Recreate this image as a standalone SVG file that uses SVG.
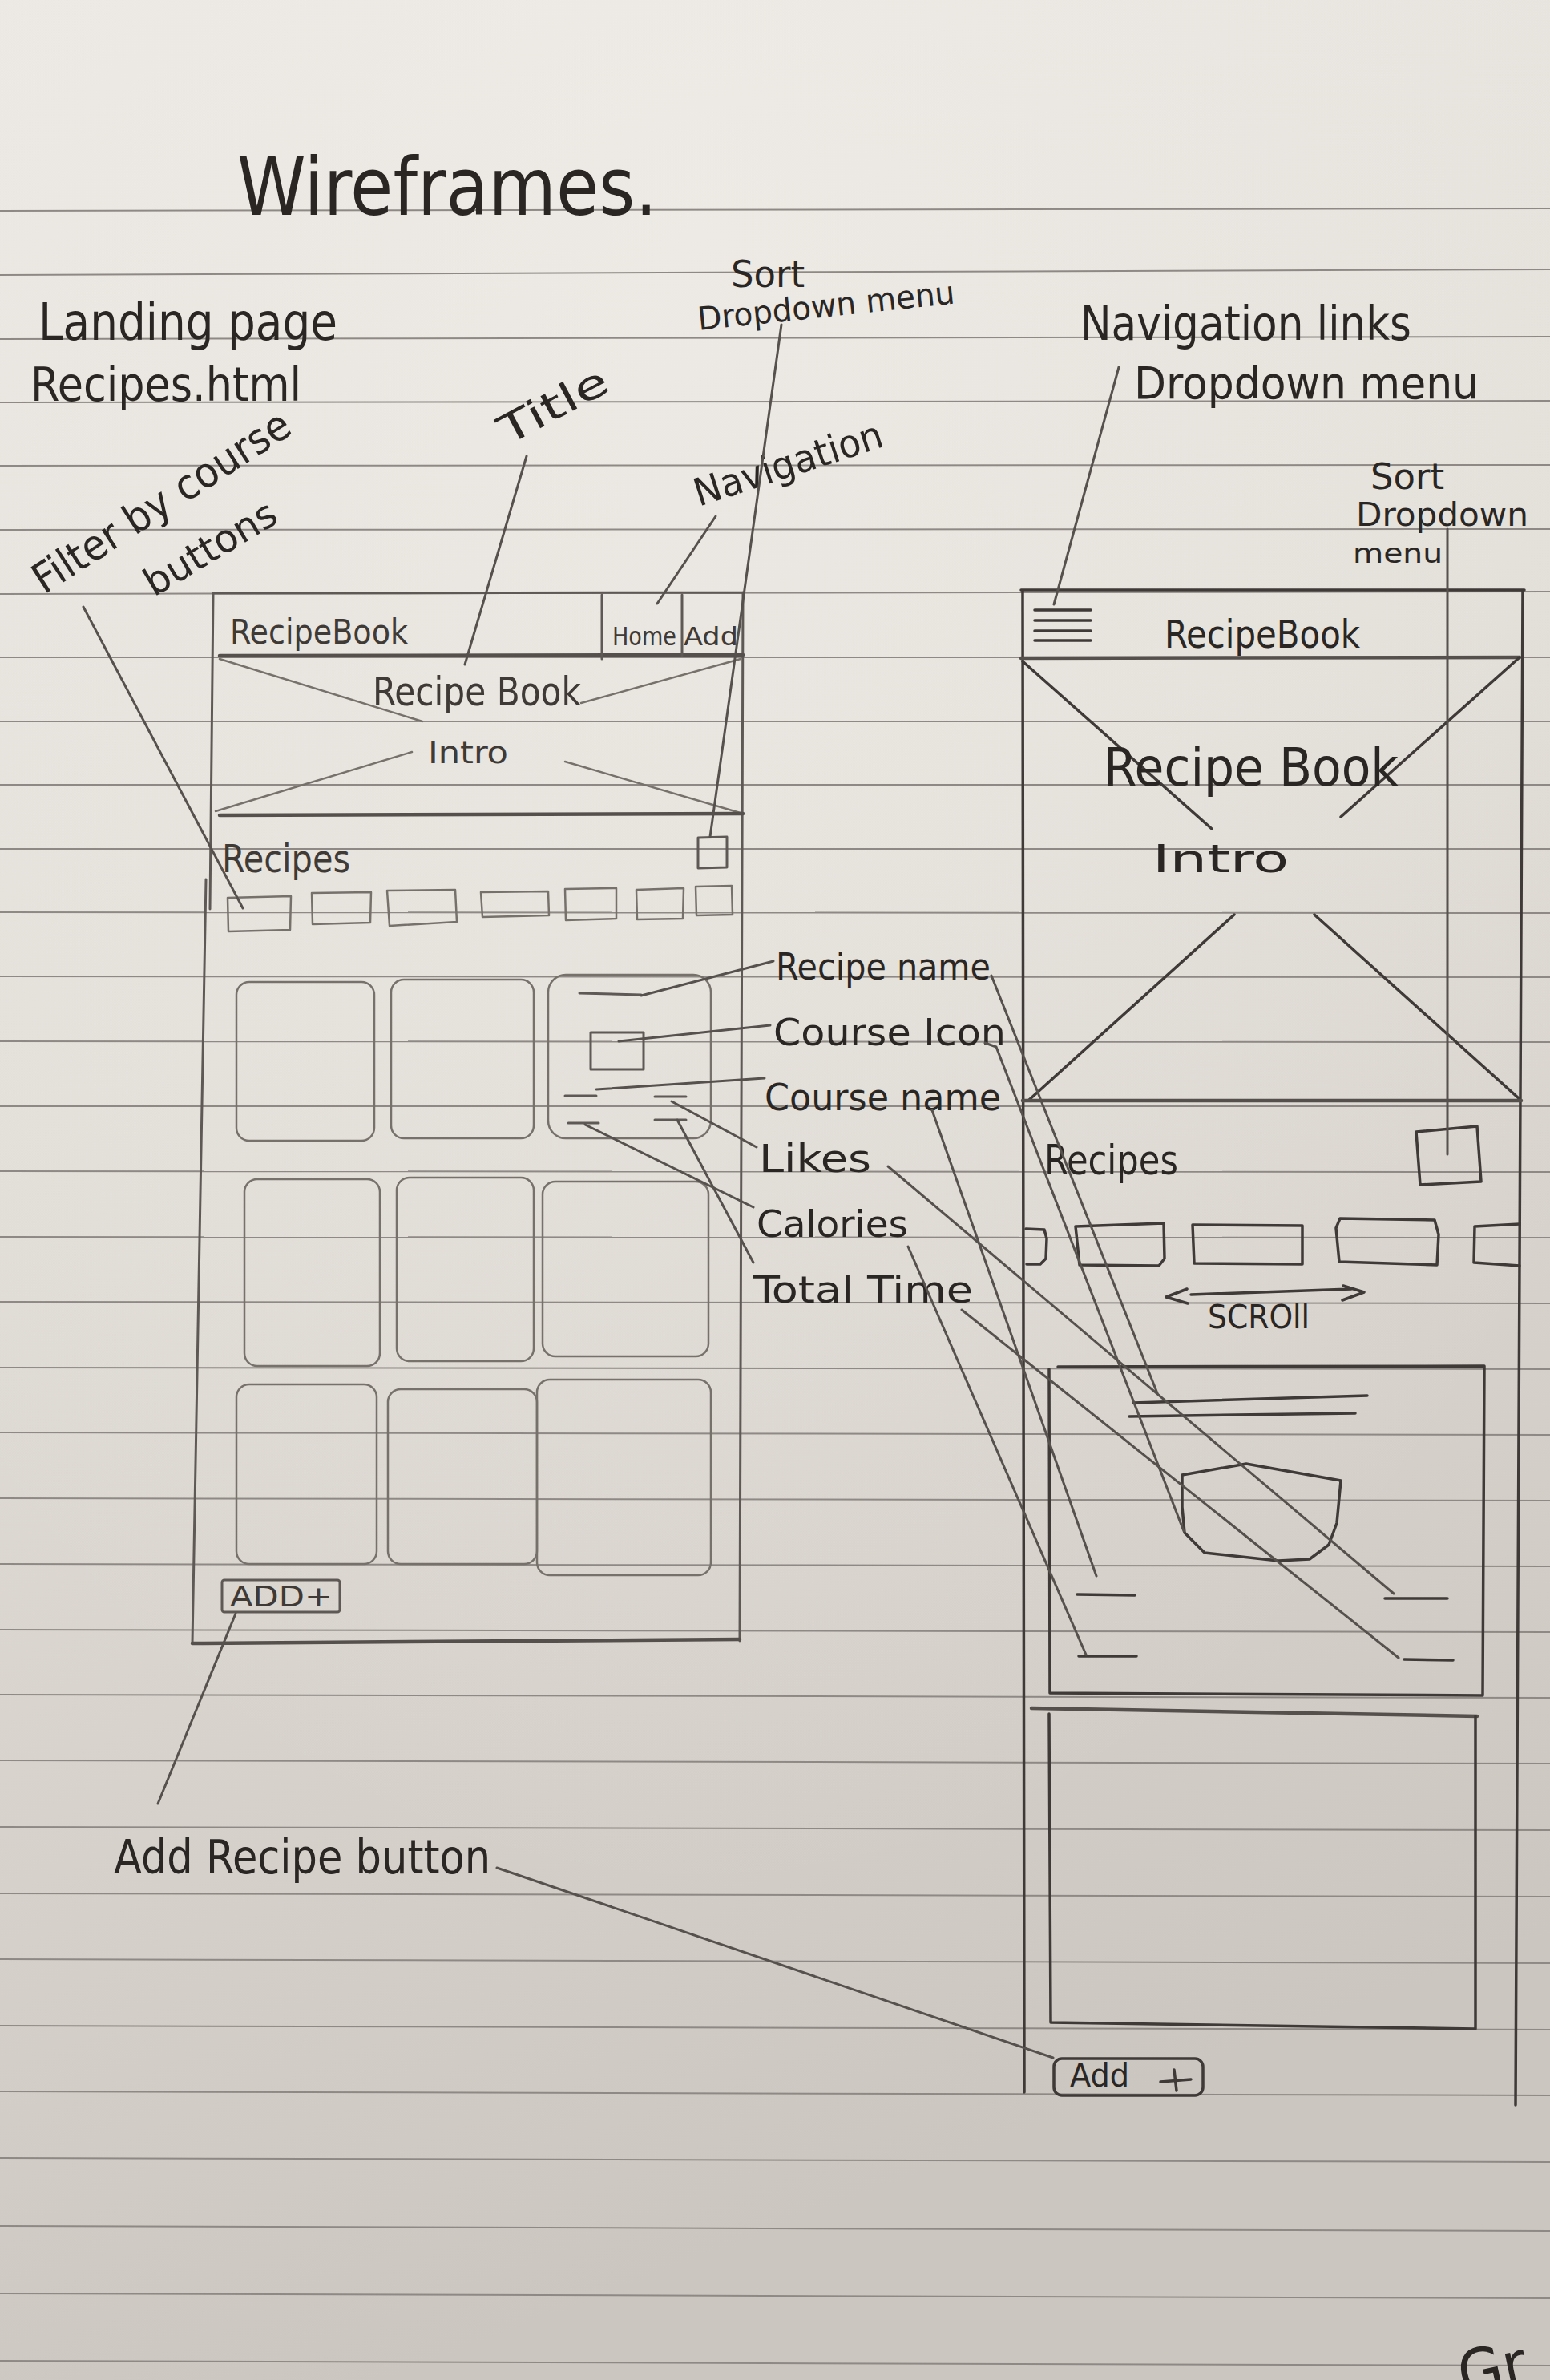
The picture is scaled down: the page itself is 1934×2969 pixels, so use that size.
<svg xmlns="http://www.w3.org/2000/svg" width="1934" height="2969" viewBox="0 0 1934 2969">
  <defs>
    <linearGradient id="paper" x1="0" y1="0" x2="0.25" y2="1">
      <stop offset="0" stop-color="#ebe8e3"/>
      <stop offset="0.45" stop-color="#e2ded8"/>
      <stop offset="1" stop-color="#ccc6c0"/>
    </linearGradient>
    <radialGradient id="glow" cx="0.45" cy="0.1" r="0.7">
      <stop offset="0" stop-color="#f2efea" stop-opacity="0.55"/>
      <stop offset="1" stop-color="#f2efea" stop-opacity="0"/>
    </radialGradient>
    <style>
      .rule { stroke: #8e8984; stroke-width: 2; fill: none; }
      .frame { stroke: #5f5955; stroke-width: 3; fill: none; stroke-linecap: round; stroke-linejoin: round; }
      .heavy { stroke: #55504c; stroke-width: 4.5; fill: none; stroke-linecap: round; }
      .soft { stroke: #77716c; stroke-width: 2.5; fill: none; stroke-linecap: round; stroke-linejoin: round; }
      .ink { stroke: #3f3a37; stroke-width: 3.5; fill: none; stroke-linecap: round; stroke-linejoin: round; }
      .lead { stroke: #56514d; stroke-width: 3; fill: none; stroke-linecap: round; }
      text { font-family: "Liberation Sans Narrow", "DejaVu Sans Condensed", "Liberation Sans", sans-serif; fill: #2c2826; }
      .pen { fill: #2a2624; }
      .pencil { fill: #3f3a36; }
    </style>
  </defs>

  <!-- paper -->
  <rect x="0" y="0" width="1934" height="2969" fill="url(#paper)"/>
  <rect x="0" y="0" width="1934" height="2969" fill="url(#glow)"/>

  <!-- ruled lines -->
  <g id="ruling" class="rule">
    <line x1="0" y1="263" x2="1934" y2="260"/>
    <line x1="0" y1="343" x2="1934" y2="336"/>
    <line x1="0" y1="423" x2="1934" y2="420"/>
    <line x1="0" y1="502" x2="1934" y2="500"/>
    <line x1="0" y1="581" x2="1934" y2="580"/>
    <line x1="0" y1="661" x2="1934" y2="660"/>
    <line x1="0" y1="741" x2="1934" y2="738"/>
    <line x1="0" y1="820" x2="1934" y2="820"/>
    <line x1="0" y1="900" x2="1934" y2="900"/>
    <line x1="0" y1="979" x2="1934" y2="979"/>
    <line x1="0" y1="1059" x2="1934" y2="1059"/>
    <line x1="0" y1="1138" x2="1934" y2="1139"/>
    <line x1="0" y1="1218" x2="1934" y2="1219"/>
    <line x1="0" y1="1299" x2="1934" y2="1300"/>
    <line x1="0" y1="1380" x2="1934" y2="1380"/>
    <line x1="0" y1="1461" x2="1934" y2="1462"/>
    <line x1="0" y1="1543" x2="1934" y2="1544"/>
    <line x1="0" y1="1624" x2="1934" y2="1626"/>
    <line x1="0" y1="1706" x2="1934" y2="1708"/>
    <line x1="0" y1="1787" x2="1934" y2="1790"/>
    <line x1="0" y1="1869" x2="1934" y2="1872"/>
    <line x1="0" y1="1951" x2="1934" y2="1954"/>
    <line x1="0" y1="2033" x2="1934" y2="2036"/>
    <line x1="0" y1="2114" x2="1934" y2="2118"/>
    <line x1="0" y1="2196" x2="1934" y2="2200"/>
    <line x1="0" y1="2279" x2="1934" y2="2283"/>
    <line x1="0" y1="2362" x2="1934" y2="2366"/>
    <line x1="0" y1="2444" x2="1934" y2="2449"/>
    <line x1="0" y1="2527" x2="1934" y2="2532"/>
    <line x1="0" y1="2609" x2="1934" y2="2614"/>
    <line x1="0" y1="2692" x2="1934" y2="2697"/>
    <line x1="0" y1="2777" x2="1934" y2="2783"/>
    <line x1="0" y1="2861" x2="1934" y2="2867"/>
    <line x1="0" y1="2945" x2="1934" y2="2951"/>
  </g>

  <!-- headings and annotation labels -->
  <g id="heading">
    <text class="pen" x="296" y="268" font-size="100" textLength="524" lengthAdjust="spacingAndGlyphs">Wireframes.</text>
  </g>
  <g id="label-landing">
    <text class="pen" x="48" y="424" font-size="64" textLength="373" lengthAdjust="spacingAndGlyphs">Landing page</text>
    <text class="pen" x="38" y="500" font-size="58" textLength="338" lengthAdjust="spacingAndGlyphs">Recipes.html</text>
  </g>
  <g id="label-filter">
    <text class="pen" x="55" y="742" font-size="52" textLength="372" lengthAdjust="spacingAndGlyphs" transform="rotate(-33 55 742)">Filter by course</text>
    <text class="pen" x="192" y="745" font-size="48" textLength="184" lengthAdjust="spacingAndGlyphs" transform="rotate(-31 192 745)">buttons</text>
  </g>
  <g id="label-title">
    <text class="pen" x="633" y="556" font-size="50" textLength="148" lengthAdjust="spacingAndGlyphs" transform="rotate(-28 633 556)">Title</text>
  </g>
  <g id="label-navigation">
    <text class="pen" x="872" y="632" font-size="48" textLength="245" lengthAdjust="spacingAndGlyphs" transform="rotate(-18 872 632)">Navigation</text>
  </g>
  <g id="label-sort-left">
    <text class="pen" x="912" y="358" font-size="46" textLength="92" lengthAdjust="spacingAndGlyphs">Sort</text>
    <text class="pen" x="872" y="412" font-size="40" textLength="322" lengthAdjust="spacingAndGlyphs" transform="rotate(-6 872 412)">Dropdown menu</text>
  </g>
  <g id="label-nav-links">
    <text class="pen" x="1348" y="424" font-size="58" textLength="413" lengthAdjust="spacingAndGlyphs">Navigation links</text>
    <text class="pen" x="1415" y="497" font-size="56" textLength="430" lengthAdjust="spacingAndGlyphs">Dropdown menu</text>
  </g>
  <g id="label-sort-right">
    <text class="pen" x="1710" y="610" font-size="44" textLength="92" lengthAdjust="spacingAndGlyphs">Sort</text>
    <text class="pen" x="1692" y="656" font-size="40" textLength="215" lengthAdjust="spacingAndGlyphs">Dropdown</text>
    <text class="pen" x="1688" y="702" font-size="34" textLength="112" lengthAdjust="spacingAndGlyphs">menu</text>
  </g>
  <g id="label-card-fields">
    <text class="pen" x="968" y="1222" font-size="46" textLength="268" lengthAdjust="spacingAndGlyphs">Recipe name</text>
    <text class="pen" x="965" y="1304" font-size="46" textLength="290" lengthAdjust="spacingAndGlyphs">Course Icon</text>
    <text class="pen" x="954" y="1385" font-size="46" textLength="295" lengthAdjust="spacingAndGlyphs">Course name</text>
    <text class="pen" x="947" y="1462" font-size="48" textLength="140" lengthAdjust="spacingAndGlyphs">Likes</text>
    <text class="pen" x="944" y="1543" font-size="46" textLength="189" lengthAdjust="spacingAndGlyphs">Calories</text>
    <text class="pen" x="940" y="1625" font-size="46" textLength="274" lengthAdjust="spacingAndGlyphs">Total Time</text>
  </g>
  <g id="label-add">
    <text class="pen" x="142" y="2337" font-size="58" textLength="470" lengthAdjust="spacingAndGlyphs">Add Recipe button</text>
  </g>
  <g id="corner-mark">
    <text class="pen" x="1826" y="2992" font-size="80" transform="rotate(-12 1826 2992)">Gr</text>
  </g>

  <!-- desktop wireframe -->
  <g id="desktop-page">
    <path class="frame" d="M266,740 L927,739 M266,740 L262,1134 M257,1097 L240,2050 M927,739 L923,2047"/>
    <path class="heavy" d="M240,2050 L923,2045"/>
    <path class="heavy" d="M274,818 L927,817"/>
    <path class="frame" d="M751,742 L751,822 M851,742 L851,818"/>
    <text class="pencil" x="287" y="803" font-size="42" textLength="222" lengthAdjust="spacingAndGlyphs">RecipeBook</text>
    <text class="pencil" x="764" y="805" font-size="32" textLength="80" lengthAdjust="spacingAndGlyphs">Home</text>
    <text class="pencil" x="853" y="805" font-size="32" textLength="68" lengthAdjust="spacingAndGlyphs">Add</text>
  </g>
  <g id="desktop-hero">
    <path class="soft" d="M274,822 L527,900 M924,822 L725,877 M269,1012 L514,938 M705,950 L927,1015"/>
    <path class="heavy" d="M274,1017 L927,1015"/>
    <text class="pencil" x="465" y="880" font-size="50" textLength="260" lengthAdjust="spacingAndGlyphs">Recipe Book</text>
    <text class="pencil" x="534" y="952" font-size="38" textLength="100" lengthAdjust="spacingAndGlyphs">Intro</text>
  </g>
  <g id="desktop-filters">
    <text class="pencil" x="277" y="1088" font-size="48" textLength="160" lengthAdjust="spacingAndGlyphs">Recipes</text>
    <path class="frame" d="M871,1045 L907,1044 L907,1082 L871,1083 Z"/>
    <path class="soft" d="M284,1120 L363,1118 L362,1160 L285,1162 Z"/>
    <path class="soft" d="M389,1114 L463,1113 L462,1151 L390,1153 Z"/>
    <path class="soft" d="M483,1111 L568,1110 L570,1150 L486,1155 Z"/>
    <path class="soft" d="M600,1113 L684,1112 L685,1142 L602,1144 Z"/>
    <path class="soft" d="M705,1109 L769,1108 L769,1146 L706,1148 Z"/>
    <path class="soft" d="M794,1110 L853,1108 L852,1146 L795,1147 Z"/>
    <path class="soft" d="M868,1106 L913,1105 L914,1141 L869,1142 Z"/>
  </g>
  <g id="desktop-cards" class="soft">
    <rect x="295" y="1225" width="172" height="198" rx="16"/>
    <rect x="488" y="1222" width="178" height="198" rx="16"/>
    <rect x="305" y="1471" width="169" height="233" rx="16"/>
    <rect x="495" y="1469" width="171" height="229" rx="16"/>
    <rect x="677" y="1474" width="207" height="218" rx="16"/>
    <rect x="295" y="1727" width="175" height="224" rx="16"/>
    <rect x="484" y="1733" width="186" height="218" rx="16"/>
    <rect x="670" y="1721" width="217" height="244" rx="16"/>
  </g>
  <g id="desktop-card-detail">
    <rect class="soft" x="684" y="1216" width="203" height="204" rx="22"/>
    <path class="frame" d="M723,1239 L800,1241"/>
    <rect class="frame" x="737" y="1288" width="66" height="46"/>
    <path class="frame" d="M705,1367 L744,1367 M817,1368 L856,1368 M709,1401 L747,1401 M817,1397 L856,1397"/>
  </g>
  <g id="desktop-add">
    <rect class="frame" x="277" y="1971" width="147" height="40" rx="3"/>
    <text class="pencil" x="287" y="2004" font-size="36" textLength="128" lengthAdjust="spacingAndGlyphs">ADD+</text>
  </g>

  <!-- mobile wireframe -->
  <g id="mobile-page">
    <path class="ink" d="M1274,736 L1902,736 M1276,736 L1278,2610 M1900,736 L1891,2626"/>
    <path class="heavy" d="M1274,821 L1896,820"/>
    <path class="ink" d="M1291,761 L1361,761 M1291,774 L1361,774 M1291,787 L1361,787 M1291,799 L1361,799"/>
    <text class="pen" x="1453" y="808" font-size="48" textLength="244" lengthAdjust="spacingAndGlyphs">RecipeBook</text>
  </g>
  <g id="mobile-hero">
    <path class="ink" d="M1276,825 L1512,1034 M1896,820 L1673,1019 M1540,1141 L1283,1373 M1640,1141 L1896,1371"/>
    <path class="heavy" d="M1276,1373 L1898,1373"/>
    <text class="pen" x="1377" y="980" font-size="66" textLength="368" lengthAdjust="spacingAndGlyphs">Recipe Book</text>
    <text class="pen" x="1438" y="1088" font-size="48" textLength="170" lengthAdjust="spacingAndGlyphs">Intro</text>
  </g>
  <g id="mobile-filters">
    <text class="pen" x="1303" y="1465" font-size="52" textLength="167" lengthAdjust="spacingAndGlyphs">Recipes</text>
    <path class="ink" d="M1767,1412 L1843,1405 L1848,1474 L1772,1478 Z"/>
    <path class="ink" d="M1280,1533 L1303,1534 L1306,1545 L1305,1570 L1298,1577 L1281,1577"/>
    <path class="ink" d="M1342,1530 L1452,1526 L1453,1570 L1446,1579 L1347,1578 Z"/>
    <path class="ink" d="M1488,1528 L1625,1529 L1625,1577 L1490,1576 Z"/>
    <path class="ink" d="M1672,1520 L1790,1522 L1795,1540 L1793,1578 L1671,1574 L1667,1532 Z"/>
    <path class="ink" d="M1896,1527 L1840,1530 L1839,1575 L1896,1579"/>
    <path class="ink" d="M1486,1615 L1686,1608 M1481,1608 L1455,1618 L1482,1626 M1676,1604 L1702,1612 L1675,1622"/>
    <text class="pen" x="1507" y="1657" font-size="40" textLength="127" lengthAdjust="spacingAndGlyphs">SCROll</text>
  </g>
  <g id="mobile-card-1">
    <path class="ink" d="M1320,1705 L1852,1704 L1850,2115 M1309,1708 L1310,2112 L1850,2115"/>
    <path class="ink" d="M1414,1750 L1706,1741 M1409,1767 L1691,1763"/>
    <path class="ink" d="M1475,1840 L1555,1826 L1673,1847 L1668,1900 L1658,1927 L1634,1945 L1595,1947 L1503,1937 L1478,1912 L1475,1880 Z"/>
    <path class="ink" d="M1344,1989 L1416,1990 M1728,1994 L1806,1994 M1346,2066 L1418,2066 M1752,2070 L1813,2071"/>
  </g>
  <g id="mobile-card-2">
    <path class="heavy" d="M1287,2131 L1843,2141"/>
    <path class="ink" d="M1309,2138 L1311,2523 L1841,2531 L1841,2141"/>
  </g>
  <g id="mobile-add">
    <rect class="ink" x="1315" y="2568" width="186" height="46" rx="10"/>
    <text class="pen" x="1335" y="2603" font-size="40" textLength="74" lengthAdjust="spacingAndGlyphs">Add</text>
    <path class="ink" d="M1448,2597 L1486,2594 M1465,2582 L1468,2608"/>
  </g>

  <!-- leader lines from annotations to the parts they name -->
  <g id="connectors" class="lead">
    <line x1="104" y1="757" x2="303" y2="1133"/>
    <line x1="657" y1="569" x2="580" y2="829"/>
    <line x1="975" y1="405" x2="886" y2="1044"/>
    <line x1="893" y1="644" x2="820" y2="753"/>
    <line x1="1396" y1="458" x2="1315" y2="754"/>
    <line x1="1806" y1="660" x2="1806" y2="1440"/>
    <line x1="800" y1="1242" x2="965" y2="1199"/>
    <line x1="772" y1="1299" x2="961" y2="1279"/>
    <line x1="744" y1="1359" x2="954" y2="1345"/>
    <line x1="838" y1="1374" x2="944" y2="1431"/>
    <line x1="730" y1="1403" x2="940" y2="1506"/>
    <line x1="845" y1="1397" x2="940" y2="1575"/>
    <line x1="1237" y1="1217" x2="1444" y2="1738"/>
    <path d="M1229,1301 L1243,1306 L1477,1910"/>
    <line x1="1163" y1="1385" x2="1368" y2="1966"/>
    <line x1="1108" y1="1455" x2="1739" y2="1988"/>
    <line x1="1133" y1="1555" x2="1355" y2="2064"/>
    <line x1="1200" y1="1634" x2="1745" y2="2068"/>
    <line x1="294" y1="2013" x2="197" y2="2250"/>
    <line x1="620" y1="2330" x2="1314" y2="2567"/>
  </g>
</svg>
